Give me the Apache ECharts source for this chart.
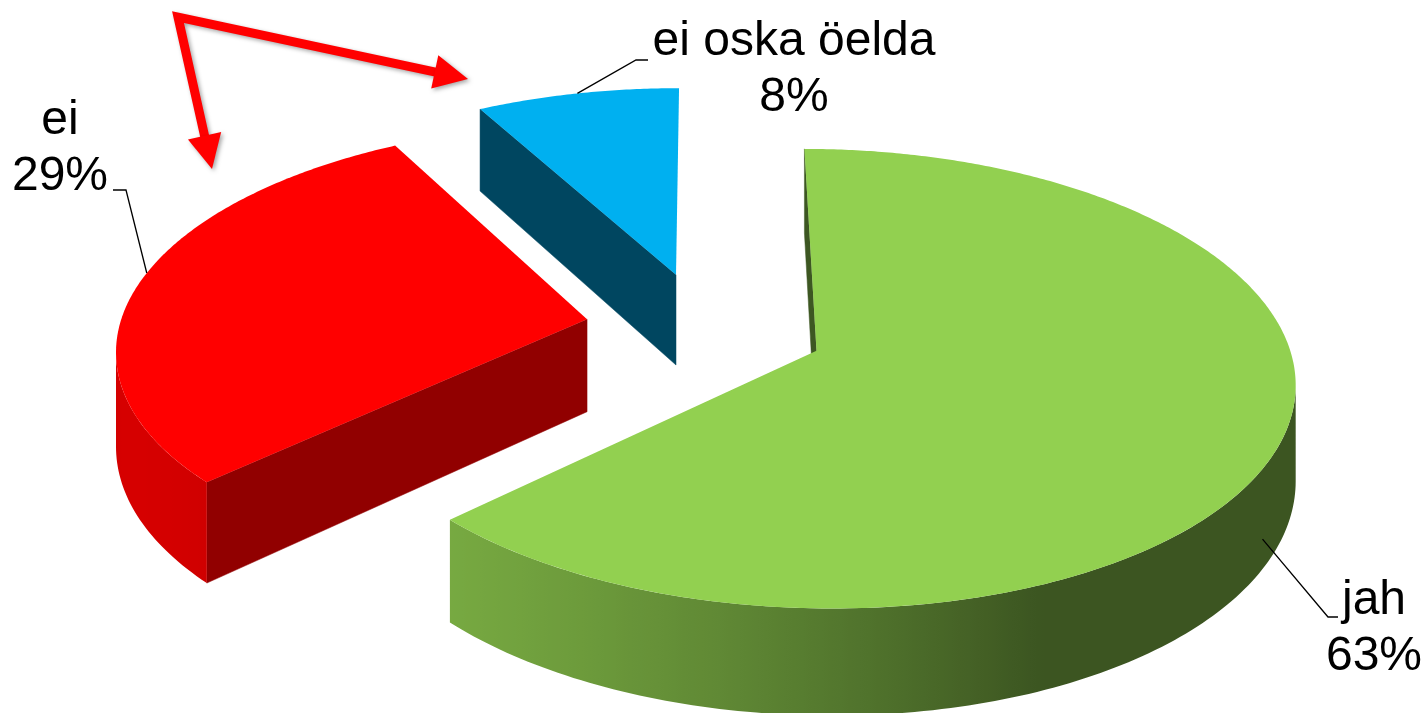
<!DOCTYPE html>
<html>
<head>
<meta charset="utf-8">
<script src="https://cdn.jsdelivr.net/npm/echarts@6/dist/echarts.min.js"></script>
<style>
html,body{margin:0;padding:0;background:#fff;}
#chart{width:1425px;height:713px;}
</style>
</head>
<body>
<div id="chart"></div>
<script>
// ---- data ----
const categories = ['jah', 'ei', 'ei oska öelda'];
const values = [63, 29, 8];

// ---- styles ----
const sliceColors = ['#92D050', '#FF0000', '#00B0F0'];
const radialShade = [0.42, 0.57, 0.40];

// ---- geometry of the 3D projection ----
const G = { cx: 705, cy: 328, r: 468, d: 3900, k: 0.472, h: 93, explode: 120 };
// label layout: anchor angle offset (deg from slice mid), depth fraction, text pos, elbow, end
const labelLayout = [
  { dAng: 6, depth: 0.7, tx: 1374, ty: 629, elbow: [1328, 617], end: [1338, 617] },
  { dAng: 3.5, depth: 0, tx: 60, ty: 149, elbow: [126, 190], end: [113, 190] },
  { dAng: 0, depth: 0, tx: 794, ty: 70, elbow: [636, 60], end: [648, 60] }
];

const total = values.reduce((a, b) => a + b, 0);
const starts = [];
let acc = 0;
values.forEach(v => { starts.push(acc / total * 2 * Math.PI); acc += v; });

function proj(X, Z, down) {
  const s = G.d / (G.d + Z);
  return [G.cx + X * s, G.cy - G.k * Z * s + down * G.h * s];
}
function hexToRgb(h) {
  const n = parseInt(h.slice(1), 16);
  return [(n >> 16) & 255, (n >> 8) & 255, n & 255];
}
function shadeColor(hex, f) {
  const c = hexToRgb(hex).map(x => Math.max(0, Math.min(255, Math.round(x * f))));
  return 'rgb(' + c.join(',') + ')';
}
function wallShade(t) {
  const d = -0.92 * Math.sin(t) - 0.39 * Math.cos(t);
  return 0.41 + 0.43 * Math.max(0, d);
}

function renderItem(params, api) {
  const i = params.dataIndex;
  const v = api.value(0);
  const a0 = starts[i];
  const a1 = a0 + v / total * 2 * Math.PI;
  const mid = (a0 + a1) / 2;
  const ox = G.explode * Math.sin(mid), oz = G.explode * Math.cos(mid);
  const rim = (t, down) => proj(ox + G.r * Math.sin(t), oz + G.r * Math.cos(t), down);
  const apex = down => proj(ox, oz, down);
  const base = sliceColors[i];
  const children = [];

  // radial faces
  const P0 = apex(0), P0d = apex(1), M = rim(mid, 0);
  [a0, a1].forEach(t => {
    const P1 = rim(t, 0), P1d = rim(t, 1);
    const ex = P1[0] - P0[0], ey = P1[1] - P0[1];
    const len = Math.hypot(ex, ey);
    const crossM = ex * (M[1] - P0[1]) - ey * (M[0] - P0[0]);
    const crossV = ex;
    if (Math.sign(crossV) !== Math.sign(crossM) && Math.abs(crossV) / len > 0.03) {
      children.push({
        type: 'polygon', z2: 1,
        shape: { points: [P0, P1, P1d, P0d] },
        style: { fill: shadeColor(base, radialShade[i]), stroke: shadeColor(base, radialShade[i]), lineWidth: 0.5 }
      });
    }
  });

  // silhouette angles (screen-x extremes of the rim)
  let tR = Math.PI / 2, tL = 3 * Math.PI / 2, xR = -1e9, xL = 1e9;
  for (let t = 0; t <= 2 * Math.PI; t += Math.PI / 1800) {
    const x = rim(t, 0)[0];
    if (t <= Math.PI && x > xR) { xR = x; tR = t; }
    if (t >= Math.PI && x < xL) { xL = x; tL = t; }
  }

  // outer wall (front part)
  const lo = Math.max(a0, tR), hi = Math.min(a1, tL);
  if (hi > lo) {
    const n = Math.max(6, Math.ceil((hi - lo) / (Math.PI / 180)));
    const top = [], bot = [], samples = [];
    for (let j = 0; j <= n; j++) {
      const t = lo + (hi - lo) * j / n;
      const p = rim(t, 0);
      top.push(p); bot.push(rim(t, 1));
      samples.push([p[0], wallShade(t)]);
    }
    const xs = samples.map(s => s[0]);
    const xmin = Math.min.apply(null, xs), xmax = Math.max.apply(null, xs);
    const stops = samples.map(s => ({ offset: (s[0] - xmin) / (xmax - xmin), color: shadeColor(base, s[1]) }))
      .sort((a, b) => a.offset - b.offset);
    const grad = new echarts.graphic.LinearGradient(xmin, 0, xmax, 0, stops, true);
    children.push({
      type: 'polygon', z2: 2,
      shape: { points: top.concat(bot.slice().reverse()) },
      style: { fill: grad }
    });
  }

  // top face
  const n2 = Math.max(8, Math.ceil((a1 - a0) / (Math.PI / 360)));
  const pts = [P0];
  for (let j = 0; j <= n2; j++) pts.push(rim(a0 + (a1 - a0) * j / n2, 0));
  children.push({ type: 'polygon', z2: 3, shape: { points: pts }, style: { fill: base } });

  // label + leader line
  const L = labelLayout[i];
  const ta = mid + L.dAng * Math.PI / 180;
  const anchor = rim(ta, L.depth);
  children.push({
    type: 'polyline', z2: 5,
    shape: { points: [anchor, L.elbow, L.end] },
    style: { stroke: '#000', lineWidth: 1.3, fill: null }
  });
  children.push({
    type: 'text', z2: 6, x: L.tx, y: L.ty,
    style: {
      text: categories[i] + '\n' + Math.round(v / total * 100) + '%',
      fill: '#000', fontSize: 48, fontFamily: '"Liberation Sans", Arial, sans-serif',
      lineHeight: 56, align: 'center', verticalAlign: 'middle'
    }
  });
  return { type: 'group', children: children };
}

// decorative arrows
function arrowParts(start, tip, headLen, headHalf) {
  const dx = tip[0] - start[0], dy = tip[1] - start[1];
  const l = Math.hypot(dx, dy), ux = dx / l, uy = dy / l;
  const bx = tip[0] - ux * headLen, by = tip[1] - uy * headLen;
  const shaftEnd = [tip[0] - ux * headLen * 0.8, tip[1] - uy * headLen * 0.8];
  const head = [tip, [bx - uy * headHalf, by + ux * headHalf], [bx + uy * headHalf, by - ux * headHalf]];
  return { shaftEnd, head };
}
const joint = [178, 17];
const arrA = arrowParts(joint, [468, 79], 34, 17);
const arrB = arrowParts(joint, [212, 169], 34, 17);
const shadow = { shadowBlur: 4, shadowOffsetX: 2, shadowOffsetY: 2, shadowColor: 'rgba(0,0,0,0.35)' };

const chart = echarts.init(document.getElementById('chart'), null, { renderer: 'canvas' });
chart.setOption({
  backgroundColor: '#ffffff',
  animation: false,
  series: [{
    type: 'custom',
    coordinateSystem: 'none',
    renderItem: renderItem,
    data: values.map((v, i) => ({ name: categories[i], value: [v] }))
  }],
  graphic: [
    { type: 'polyline', z: 10, shape: { points: [arrA.shaftEnd, joint, arrB.shaftEnd] },
      style: Object.assign({ stroke: '#FF0000', lineWidth: 9, lineJoin: 'miter', fill: null }, shadow) },
    { type: 'polygon', z: 10, shape: { points: arrA.head }, style: Object.assign({ fill: '#FF0000' }, shadow) },
    { type: 'polygon', z: 10, shape: { points: arrB.head }, style: Object.assign({ fill: '#FF0000' }, shadow) }
  ]
});
</script>
</body>
</html>
